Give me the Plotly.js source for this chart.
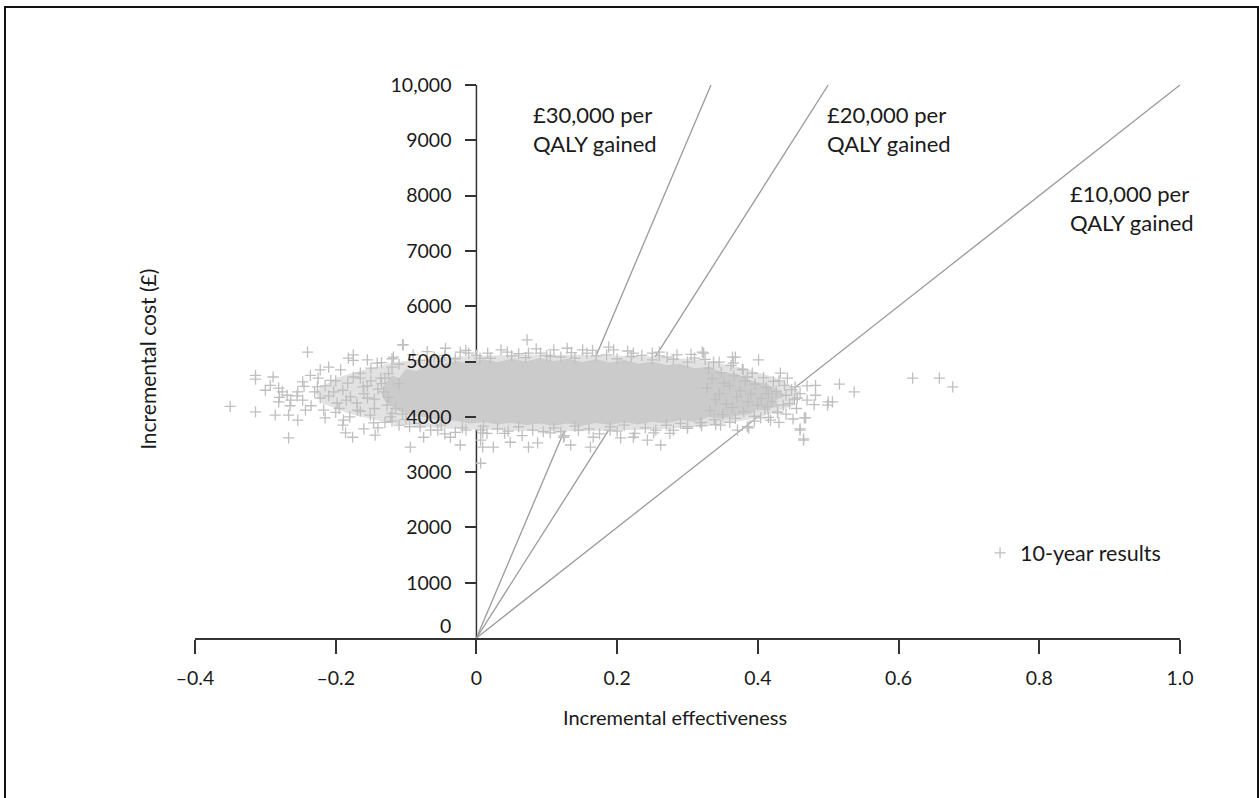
<!DOCTYPE html>
<html>
<head>
<meta charset="utf-8">
<script src="https://cdn.plot.ly/plotly-3.0.1.min.js"></script>
<style>html,body{margin:0;padding:0;background:#fff;}#chart{width:1259px;height:798px;}</style>
</head>
<body>
<div id="chart"></div>
<script>
// ---- Data ----
const xTickVals = [-0.4, -0.2, 0, 0.2, 0.4, 0.6, 0.8, 1.0];
const xTickText = ['\u20130.4', '\u20130.2', '0', '0.2', '0.4', '0.6', '0.8', '1.0'];
const yTickVals = [1000, 2000, 3000, 4000, 5000, 6000, 7000, 8000, 9000, 10000];
const yTickText = ['1000', '2000', '3000', '4000', '5000', '6000', '7000', '8000', '9000', '10,000'];

// willingness-to-pay thresholds (cost per QALY)
const wtpLabels = ['\u00a330,000 per<br>QALY gained', '\u00a320,000 per<br>QALY gained', '\u00a310,000 per<br>QALY gained'];
const wtpValues = [30000, 20000, 10000];
const wtpLabelX = [0.077, 0.496, 0.841];
const wtpLabelY = [9200, 9200, 7770];

// outer, sparser zone of the simulation cloud
const haloX = [-0.23, -0.2, -0.16, -0.12, -0.05, 0.05, 0.15, 0.25, 0.32, 0.38, 0.43, 0.46, 0.45, 0.40, 0.33, 0.25, 0.15, 0.05, -0.05, -0.12, -0.18, -0.22];
const haloY = [4450, 4700, 4850, 4980, 5080, 5120, 5120, 5090, 5030, 4880, 4690, 4450, 4200, 3980, 3830, 3770, 3740, 3750, 3790, 3880, 4050, 4250];

// dense core of the simulation cloud
const coreX = [-0.135,-0.13,-0.12,-0.11,-0.10,-0.085,-0.07,-0.05,-0.03,-0.01,0.01,0.03,0.05,0.07,0.09,0.11,0.13,0.15,0.17,0.19,0.21,0.23,0.25,0.27,0.29,0.31,0.33,0.35,0.37,0.39,0.41,0.43,0.44,0.425,0.43,0.40,0.39,0.37,0.35,0.33,0.31,0.29,0.27,0.25,0.23,0.21,0.19,0.17,0.15,0.13,0.11,0.09,0.07,0.05,0.03,0.01,-0.01,-0.03,-0.05,-0.07,-0.09,-0.11,-0.12,-0.13];
const coreY = [4420,4600,4750,4700,4870,4830,4960,4930,5010,4970,5040,4990,5050,5000,5060,5010,5050,4990,5040,4980,5030,4960,5000,4930,4960,4880,4900,4800,4780,4650,4600,4480,4380,4300,4180,4150,4050,4020,3960,3990,3910,3940,3880,3910,3860,3900,3850,3890,3840,3880,3840,3880,3850,3890,3860,3900,3880,3930,3920,3990,4010,4100,4180,4280];

// individual simulation results
const simX = [
 -0.35,-0.314,-0.314,-0.314,-0.289,-0.286,-0.293,-0.281,-0.267,-0.267,-0.254,-0.240,-0.243,-0.264,-0.254,-0.247,-0.236,-0.226,-0.222,-0.217,
 -0.210,-0.207,-0.203,-0.198,-0.189,-0.186,-0.176,-0.175,-0.175,-0.193,-0.183,-0.179,-0.169,-0.165,-0.161,-0.155,-0.151,-0.146,-0.144,-0.141,
 -0.136,-0.132,-0.127,-0.122,-0.118,-0.105,-0.094,-0.182,-0.155,-0.222,-0.247,-0.269,-0.276,-0.281,
 -0.104,-0.044,-0.023,-0.011,0.016,0.044,0.072,0.074,0.091,0.110,0.129,0.151,0.157,0.188,0.195,0.223,0.250,0.271,0.321,0.337,
 0.364,0.365,0.401,0.379,0.432,0.442,0.453,0.456,0.468,0.460,0.465,0.482,0.414,0.428,0.404,0.385,0.371,0.347,0.318,
 -0.075,-0.037,-0.023,0.006,0.009,0.024,0.048,0.074,0.087,0.105,0.124,0.134,0.162,0.166,0.190,0.205,0.223,0.243,0.262,0.252,
 0.280,0.300,-0.055,-0.080,0.006,0.006,0.009,
 0.620,0.658,0.677,0.537,0.516,0.482,0.500,0.506,0.499,0.466,0.460,0.465,0.418,0.387,0.368,0.323,
 -0.11,-0.08,-0.06,-0.03,0.00,0.02,0.05,0.07,0.10,0.12,0.14,0.17,0.20,0.22,0.25,0.28,0.30,0.31,0.26,
 -0.10,-0.08,-0.05,-0.02,0.01,0.03,0.06,0.08,0.11,0.14,0.16,0.19,0.21,0.24,0.27,0.29,0.32,0.12,0.04,-0.03,
 -0.13,-0.125,-0.115,-0.11,-0.12,-0.105,-0.14,-0.145,-0.15,-0.16,-0.17,-0.165,-0.19,-0.2,-0.21,-0.23,-0.235,-0.2,-0.18,-0.13,-0.11,-0.14,
 0.33,0.335,0.328,0.34,0.332,0.338,0.348,0.352,0.345,0.355,0.35,0.362,0.366,0.36,0.37,0.364,0.368,
 0.378,0.382,0.375,0.386,0.38,0.392,0.396,0.39,0.4,0.395,0.408,0.412,0.405,0.41,0.422,0.426,0.42,0.428,0.438,0.44,0.436,0.448,0.452,
 -0.12,-0.09,-0.07,-0.045,-0.015,0.005,0.035,0.06,0.085,0.105,0.135,0.165,0.185,0.215,0.235,0.26,0.285,0.305,0.325,0.345,
 -0.12,-0.095,-0.065,-0.045,-0.015,0.015,0.045,0.065,0.095,0.125,0.145,0.175,0.2,0.225,0.255,0.275,0.3,0.32,0.34,0.36,
 0.385,0.415,0.43,0.445,0.46,0.47,0.455,0.44,0.47,0.48,0.395,0.415,0.43,0.45,
 -0.125,-0.135,-0.145,-0.155,-0.165,-0.175,-0.185,-0.195,-0.215,-0.225,-0.245,-0.255,-0.265,-0.28,-0.3,-0.215,-0.19,-0.16,-0.135,-0.15,-0.12
];
const simY = [
 4190,4750,4680,4090,4720,4030,4570,4520,4030,3620,3940,5170,4120,4300,4450,4630,4750,4540,4340,4120,
 4900,4660,4450,4250,3940,3710,3630,5120,5020,4850,4610,4360,4120,4790,4540,4340,4030,3890,3670,4970,
 4700,4450,4210,4000,5080,5300,3450,5060,5030,4850,4300,4390,4450,4270,
 5300,5240,5170,5150,5150,5170,5390,5150,5150,5210,5240,5210,5150,5260,5210,5150,5150,5080,5170,4990,
 5080,4970,5030,4850,4790,4700,4540,4340,3980,3760,3580,4390,4180,4070,3980,3820,3760,3850,3890,
 3630,3630,3490,3160,3450,3450,3540,3450,3530,3710,3630,3490,3450,3630,3760,3620,3630,3580,3490,3710,
 3760,3820,3760,3820,3760,3580,3710,
 4700,4700,4540,4450,4590,4570,4270,4270,4210,3980,3780,3600,3940,3800,5080,5150,
 4950,5020,5080,5050,5110,5060,5100,5070,5110,5080,5060,5100,5050,5090,5030,5040,4990,5060,5100,
 3950,3880,3850,3800,3830,3780,3820,3760,3800,3830,3780,3820,3850,3800,3850,3880,3900,3730,3700,3720,
 4700,4350,4150,4600,4900,4050,4500,4150,4650,4420,4250,4700,4480,4650,4380,4450,4200,4080,4000,3900,3850,3800,
 4880,4690,4520,4310,4110,3950,4800,4610,4420,4230,4040,4930,4740,4560,4360,4170,3970,
 4860,4650,4470,4270,4090,4790,4590,4410,4210,4010,4710,4530,4330,4140,4640,4460,4280,4090,4570,4390,4210,4490,4310,
 5050,5120,5180,5110,5200,5060,5210,5140,5230,5090,5160,5200,5120,5190,5110,5170,5120,5130,5040,4990,
 3920,3820,3760,3690,3760,3700,3740,3660,3730,3660,3760,3690,3740,3700,3760,3700,3790,3840,3860,3900,
 4720,4420,4650,4240,4420,4560,4150,4050,4300,4220,3920,3990,3900,3960,
 4780,4600,4320,4560,4100,4720,4300,4150,4560,4700,4550,4380,4200,4350,4480,3980,3850,3780,4980,4880,4060
];
const seriesName = '10-year results';

// ---- Figure ----
const FONT = 'Lato, "Open Sans", "DejaVu Sans", sans-serif';
const TXT = '#1a1a1a';
const lineColor = '#9a9a9a';
const pointColor = '#bfbfbf';
const xMax = 1.0, yMax = 10000;

const traces = [];
wtpValues.forEach(function (v) {
  const xEnd = Math.min(xMax, yMax / v);
  traces.push({
    type: 'scatter', mode: 'lines', x: [0, xEnd], y: [0, xEnd * v],
    line: {color: lineColor, width: 1.3}, hoverinfo: 'skip', showlegend: false
  });
});
traces.push({
  type: 'scatter', mode: 'lines', x: haloX, y: haloY, fill: 'toself',
  fillcolor: '#e2e2e2', line: {width: 0, color: '#e2e2e2'}, hoverinfo: 'skip', showlegend: false
});
traces.push({
  type: 'scatter', mode: 'lines', x: coreX, y: coreY, fill: 'toself',
  fillcolor: '#cbcbcb', line: {width: 0, color: '#cbcbcb'}, hoverinfo: 'skip', showlegend: false
});
traces.push({
  type: 'scatter', mode: 'markers', name: seriesName, x: simX, y: simY,
  marker: {symbol: 'cross-thin-open', size: 8, color: pointColor, line: {width: 1.3, color: pointColor}},
  showlegend: true
});

const annotations = wtpLabels.map(function (t, i) {
  return {xref: 'x', yref: 'y', x: wtpLabelX[i], y: wtpLabelY[i], text: t, showarrow: false,
          xanchor: 'left', yanchor: 'middle', align: 'left', font: {family: FONT, size: 22, color: TXT}};
});
annotations.push({xref: 'x', yref: 'y', x: 0, y: 0, text: '0', showarrow: false, xanchor: 'right', yanchor: 'middle',
                  xshift: -23, yshift: 13, font: {family: FONT, size: 19.5, color: TXT}});
annotations.push({xref: 'paper', yref: 'paper', x: -0.0477, y: 0.503, text: 'Incremental cost (\u00a3)', textangle: -90,
                  showarrow: false, xanchor: 'center', yanchor: 'middle', font: {family: FONT, size: 21, color: TXT}});
annotations.push({xref: 'paper', yref: 'paper', x: 0.487, y: -0.143, text: 'Incremental effectiveness',
                  showarrow: false, xanchor: 'center', yanchor: 'middle', font: {family: FONT, size: 20, color: TXT}});

const layout = {
  width: 1259, height: 798,
  margin: {l: 195, r: 79, t: 85, b: 160},
  paper_bgcolor: '#ffffff', plot_bgcolor: '#ffffff',
  font: {family: FONT, size: 19, color: TXT},
  xaxis: {
    range: [-0.4, 1.0], tickvals: xTickVals, ticktext: xTickText, showgrid: false, zeroline: false,
    showline: true, linecolor: '#333', linewidth: 1.5, ticks: 'outside', ticklen: 14, tickwidth: 1.5, tickcolor: '#333',
    ticklabelstandoff: 8, tickfont: {family: FONT, size: 19.5, color: TXT}
  },
  yaxis: {
    range: [0, 10000], tickvals: yTickVals, ticktext: yTickText, showgrid: false, zeroline: false,
    anchor: 'free', position: 0.2857, showline: false, ticks: 'outside', ticklen: 11, tickwidth: 1.5, tickcolor: '#333',
    ticklabelstandoff: 10, tickfont: {family: FONT, size: 19.5, color: TXT}
  },
  shapes: [
    {type: 'line', xref: 'x', yref: 'y', x0: 0, x1: 0, y0: 0, y1: 10000, layer: 'below', line: {color: '#333', width: 1.5}},
    {type: 'rect', xref: 'paper', yref: 'paper', x0: -0.1929, x1: 1.0792, y0: -0.33, y1: 1.141, layer: 'above',
     line: {color: '#111', width: 2}, fillcolor: 'rgba(0,0,0,0)'}
  ],
  legend: {x: 0.797, y: 0.154, xanchor: 'left', yanchor: 'middle', bgcolor: 'rgba(0,0,0,0)',
           font: {family: FONT, size: 21.5, color: TXT}},
  annotations: annotations,
  showlegend: true
};

Plotly.newPlot('chart', traces, layout, {displayModeBar: false, responsive: false});
</script>
</body>
</html>
